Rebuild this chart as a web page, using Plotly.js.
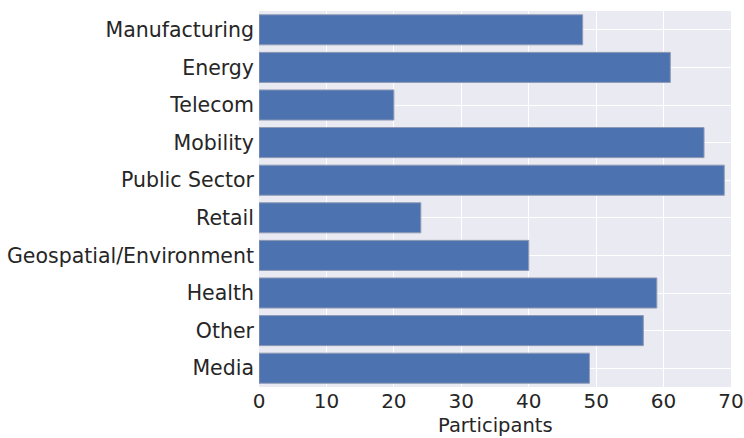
<!DOCTYPE html>
<html>
<head>
<meta charset="utf-8">
<script src="https://cdn.plot.ly/plotly-3.0.1.min.js"></script>
<style>html,body{margin:0;padding:0;background:#fff;}#chart{width:744px;height:438px;}</style>
</head>
<body>
<div id="chart"></div>
<script>
const categories = ["Manufacturing","Energy","Telecom","Mobility","Public Sector","Retail","Geospatial/Environment","Health","Other","Media"];
const participants = [48,61,20,66,69,24,40,59,57,49];
const xTicks = [0,10,20,30,40,50,60,70];

Plotly.newPlot('chart', [{
  type: 'bar',
  orientation: 'h',
  y: categories,
  x: participants,
  width: 0.8,
  marker: {color: '#4c72b0', line: {color: '#8f9bb5', width: 1}},
  hoverinfo: 'x+y'
}], {
  width: 744, height: 438,
  margin: {l: 259, r: 13, t: 11, b: 51},
  paper_bgcolor: '#ffffff',
  plot_bgcolor: '#eaeaf2',
  font: {family: 'DejaVu Sans', size: 20.5, color: '#262626'},
  showlegend: false,
  xaxis: {
    range: [0, 70],
    tickvals: xTicks,
    ticktext: xTicks.map(String),
    showgrid: true, gridcolor: '#ffffff', gridwidth: 1,
    zeroline: false, showline: false,
    ticks: '', ticklabelstandoff: 0,
    ticklabeloverflow: 'allow',
    automargin: false,
    tickfont: {size: 20, color: '#262626'},
    title: {text: '', font: {size: 20, color: '#262626'}}
  },
  yaxis: {
    categoryorder: 'array', categoryarray: categories,
    autorange: false, range: [9.5, -0.5],
    showgrid: true, gridcolor: '#ffffff', gridwidth: 1,
    zeroline: false, showline: false,
    ticks: '', ticklabelstandoff: 4,
    tickfont: {size: 20.5, color: '#262626'}
  },
  annotations: [{
    text: 'Participants', xref: 'paper', yref: 'paper',
    x: 0.5, y: 0, xanchor: 'center', yanchor: 'bottom', yshift: -51,
    borderpad: 0,
    showarrow: false, font: {size: 19.5, color: '#262626'}
  }]
}, {displayModeBar: false, staticPlot: true});
</script>
</body>
</html>
